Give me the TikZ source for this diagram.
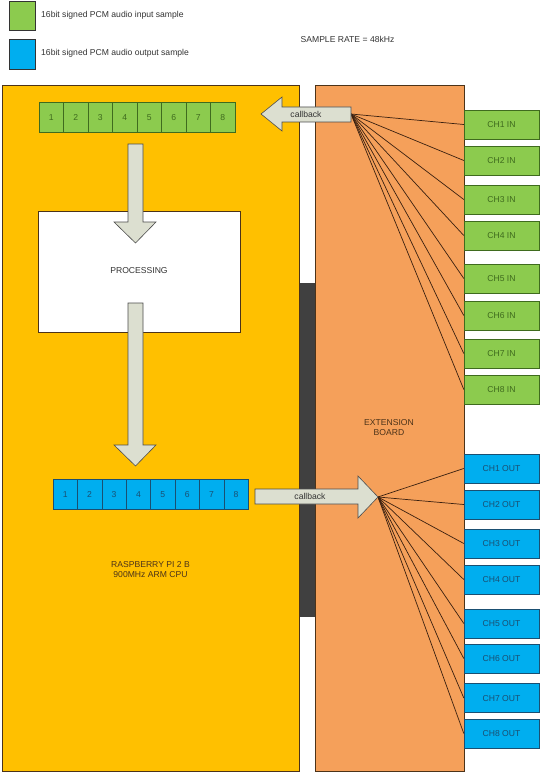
\documentclass[tikz,border=0pt]{standalone}
\usepackage{fontspec}
\setmainfont{Liberation Sans}
\definecolor{pibg}{HTML}{FFC000}
\definecolor{extbg}{HTML}{F5A05A}
\definecolor{ingreen}{HTML}{8CCB4E}
\definecolor{ingreend}{HTML}{3F6B1E}
\definecolor{outblue}{HTML}{00AEEF}
\definecolor{outblued}{HTML}{1A4F72}
\definecolor{arrfill}{HTML}{DCDFD0}
\definecolor{txt}{HTML}{333333}
\definecolor{fanc}{HTML}{3A2010}
\begin{document}
\begin{tikzpicture}[x=1pt,y=-1pt,
  base/.style={font=\fontsize{8.6}{10}\selectfont},
  cellin/.style={base,draw=ingreend,fill=ingreen,minimum width=24.5pt,minimum height=30pt,inner sep=0pt,text=ingreend,text height=6.2pt,text depth=0pt},
  cellout/.style={base,draw=outblued,fill=outblue,minimum width=24.4pt,minimum height=30pt,inner sep=0pt,text=outblued,text height=6.2pt,text depth=0pt},
  chin/.style={base,draw=ingreend,fill=ingreen,minimum width=75pt,minimum height=29pt,inner sep=0pt,text=ingreend,text height=6.2pt,text depth=0pt},
  chout/.style={base,draw=outblued,fill=outblue,minimum width=75pt,minimum height=29pt,inner sep=0pt,text=outblued,text height=6.2pt,text depth=0pt},
  bigarrow/.style={draw=black!70,fill=arrfill,line width=0.6pt},
  fan/.style={draw=fanc,line width=0.7pt},
  lbl/.style={base,text=txt,inner sep=0pt}
]
\useasboundingbox (0,0) rectangle (540,773);
\fill[white] (0,0) rectangle (540,773);

% legend
\node[draw=black!80,fill=ingreen,minimum width=26pt,minimum height=29pt,inner sep=0pt] (leg1) at (22,15.5) {};
\node[draw=black!80,fill=outblue,minimum width=26pt,minimum height=30pt,inner sep=0pt] (leg2) at (22,54.5) {};
\node[lbl,anchor=west] (leg1t) at (41,15) {16bit signed PCM audio input sample};
\node[lbl,anchor=west] (leg2t) at (41,53) {16bit signed PCM audio output sample};
\node[lbl] (rate) at (347.5,39.5) {SAMPLE RATE = 48kHz};

% boards
\draw[fill=pibg,draw=black!60!brown,line width=0.6pt] (2,85) rectangle (299,771);
\draw[fill=extbg,draw=black!60!brown,line width=0.6pt] (315,85) rectangle (464,771);
\fill[black!75] (300,283) rectangle (315,617);
\node[lbl,align=center,text=black!60!brown] (pi) at (150.5,570) {RASPBERRY PI 2 B\\900MHz ARM CPU};
\node[lbl,align=center,text=black!60!brown] (ext) at (389,428) {EXTENSION\\BOARD};

% processing
\node[lbl,draw=black!60!brown,fill=white,minimum width=202pt,minimum height=121pt] (proc) at (139,271.5) {};

% down arrows
\draw[bigarrow] (128,144) -- (143,144) -- (143,222) -- (156,222) -- (135.5,243) -- (114,222) -- (128,222) -- cycle;
\draw[bigarrow] (128,303) -- (143,303) -- (143,445) -- (156,445) -- (135.5,466) -- (114,445) -- (128,445) -- cycle;
\node[lbl] (proct) at (139,271) {PROCESSING};

% sample cells
\foreach \i in {1,...,8} {
  \node[cellin] (gi\i) at ({39+24.5*(\i-0.5)},117) {\i};
  \node[cellout] (bo\i) at ({53+24.4*(\i-0.5)},494) {\i};
}

% channel boxes
\foreach \i/\y in {1/124.5,2/160.5,3/199.5,4/235.5,5/278.5,6/315.5,7/353.5,8/389.5}
  \node[chin] (in\i) at (501.5,\y) {CH\i\ IN};
\foreach \i/\y in {1/468.5,2/504.5,3/543.5,4/579.5,5/623.5,6/658.5,7/698,8/733.5}
  \node[chout] (out\i) at (501.5,\y) {CH\i\ OUT};

% fans
\coordinate (cbin) at (351,114);
\coordinate (cbout) at (378,497);
\foreach \i in {1,...,8} {
  \draw[fan] (cbin) -- (in\i.west);
  \draw[fan] (cbout) -- (out\i.west);
}

% callback arrows
\draw[bigarrow] (351,107) -- (282,107) -- (282,97) -- (261,114) -- (282,131) -- (282,122) -- (351,122) -- cycle;
\node[lbl] (cb1) at (306,114.5) {callback};
\draw[bigarrow] (255,489) -- (358,489) -- (358,476) -- (378,497) -- (358,518) -- (358,504) -- (255,504) -- cycle;
\node[lbl] (cb2) at (310,496.5) {callback};
\end{tikzpicture}
\end{document}
